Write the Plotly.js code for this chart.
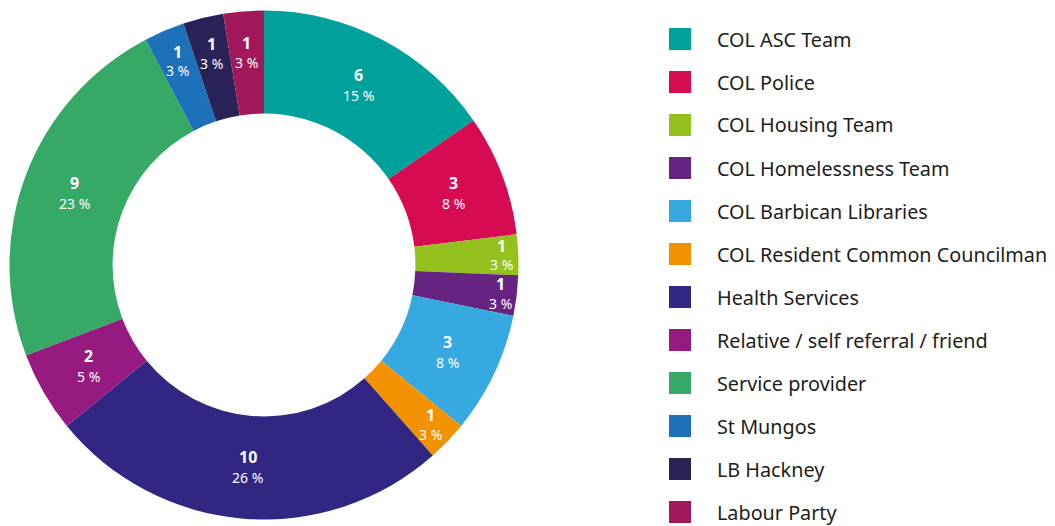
<!DOCTYPE html>
<html><head><meta charset="utf-8">
<script src="https://cdn.plot.ly/plotly-3.0.1.min.js"></script>
<style>html,body{margin:0;padding:0;background:#fff}#chart{width:1055px;height:526px}</style>
</head><body><div id="chart"></div>
<script>
const categories = ["COL ASC Team","COL Police","COL Housing Team","COL Homelessness Team","COL Barbican Libraries","COL Resident Common Councilman","Health Services","Relative / self referral / friend","Service provider","St Mungos","LB Hackney","Labour Party"];
const counts = [6,3,1,1,3,1,10,2,9,1,1,1];
const colors = ["#00a19a","#d60b52","#95c11f","#662382","#36a9e1","#f39200","#312783","#951b81","#36a967","#1d71b8","#2a2358","#a2195b"];

const W = 1055, H = 526;
const CX = 264, CY = 265, R = 254.5, HOLE = 0.595;
const total = counts.reduce((a,b)=>a+b,0);
const pctText = counts.map(v => Math.round(v/total*100) + " %");

const trace = {
  type: "pie",
  labels: categories,
  values: counts,
  sort: false,
  direction: "clockwise",
  rotation: 0,
  hole: HOLE,
  marker: {colors: colors, line: {width: 0}},
  textposition: "none",
  domain: {x: [(CX-R)/W, (CX+R)/W], y: [(H-CY-R)/H, (H-CY+R)/H]},
  showlegend: false,
  hoverinfo: "label+value+percent"
};

const shapes = [], annotations = [];
// slice labels placed at each slice's mid angle (computed from the data)
let cum = 0;
const rMid = R*(1+HOLE)/2;
counts.forEach((v, i) => {
  const mid = (cum + v/2)/total*2*Math.PI;
  cum += v;
  const small = v/total < 0.04;
  const r = small ? rMid + 8 + 27*Math.abs(Math.sin(mid)) : rMid;
  const px = CX + r*Math.sin(mid), py = CY - r*Math.cos(mid);
  const gap = small ? 9.5 : 10.5;
  annotations.push({xref:"paper", yref:"paper", x: px/W, y: 1-(py-gap)/H,
    xanchor:"center", yanchor:"middle", showarrow:false, text: "<b>"+v+"</b>",
    font:{family:"Noto Sans", size:16, color:"#ffffff"}});
  annotations.push({xref:"paper", yref:"paper", x: px/W, y: 1-(py+gap)/H,
    xanchor:"center", yanchor:"middle", showarrow:false, text: pctText[i],
    font:{family:"Noto Sans", size:14, color:"#ffffff"}});
});

categories.forEach((c, i) => {
  const cy = 39 + i*43.0;
  shapes.push({type: "rect", xref: "paper", yref: "paper",
    x0: 669/W, x1: 691/W, y0: 1-(cy-11)/H, y1: 1-(cy+11)/H,
    fillcolor: colors[i], line: {width: 0}});
  annotations.push({xref: "paper", yref: "paper", x: 715/W, y: 1-cy/H,
    xanchor: "left", yanchor: "middle", showarrow: false, text: c,
    font: {family: "Noto Sans", size: 19.8, color: "#1d1d1b"}});
});

const layout = {
  width: W, height: H,
  margin: {l: 0, r: 0, t: 0, b: 0},
  paper_bgcolor: "#fff",
  shapes: shapes,
  annotations: annotations
};
Plotly.newPlot("chart", [trace], layout, {displayModeBar: false, staticPlot: true});
</script></body></html>
